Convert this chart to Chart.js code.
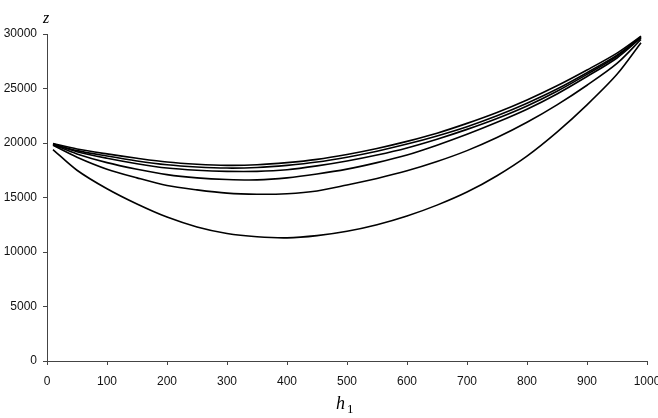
<!DOCTYPE html>
<html>
<head>
<meta charset="utf-8">
<script src="https://cdn.jsdelivr.net/npm/chart.js@4"></script>
<style>
  html, body { margin: 0; padding: 0; background: #fff; overflow: hidden; }
  #wrap { width: 658px; height: 418px; }
</style>
</head>
<body>
<div id="wrap"><canvas id="zChart" width="658" height="418"></canvas></div>
<script>

// ------------------------------
// Data
// ------------------------------

const h1Values = [10, 50, 100, 150, 200, 250, 300, 350, 400, 450, 500,
                  550, 600, 650, 700, 750, 800, 850, 900, 950, 990];

const curve1 = [19950, 19450, 19000, 18600, 18250, 18050, 17950, 18000, 18200, 18500, 18950,
                19500, 20150, 20900, 21800, 22800, 23950, 25250, 26700, 28250, 29800];
const curve2 = [19900, 19300, 18800, 18350, 18000, 17800, 17700, 17750, 17950, 18250, 18700,
                19250, 19900, 20650, 21500, 22500, 23650, 24950, 26450, 28050, 29750];
const curve3 = [19900, 19200, 18600, 18100, 17700, 17500, 17400, 17400, 17550, 17900, 18350,
                18900, 19550, 20350, 21250, 22250, 23400, 24750, 26300, 27950, 29700];
const curve4 = [19850, 19000, 18200, 17600, 17100, 16800, 16650, 16620, 16800, 17150, 17600,
                18200, 18900, 19800, 20800, 21900, 23100, 24500, 26100, 27800, 29650];
const curve5 = [19800, 18700, 17600, 16800, 16100, 15700, 15400, 15300, 15350, 15600, 16150,
                16750, 17450, 18300, 19300, 20500, 21900, 23500, 25300, 27300, 29500];
const curve6 = [19400, 17500, 15800, 14400, 13200, 12300, 11700, 11400, 11300, 11500, 11900,
                12500, 13300, 14300, 15500, 17000, 18800, 21000, 23500, 26300, 29200];

const curves = [curve1, curve2, curve3, curve4, curve5, curve6];

const xTicks = [0, 100, 200, 300, 400, 500, 600, 700, 800, 900, 1000];
const yTicks = [0, 5000, 10000, 15000, 20000, 25000, 30000];

// ------------------------------
// Axis titles (z and h1)
// ------------------------------

const axisTitles = {
    id: "axisTitles",
    afterDraw: function(chart){
        const ctx = chart.ctx;
        ctx.save();
        ctx.fillStyle = "#000";
        ctx.textBaseline = "alphabetic";
        ctx.textAlign = "left";

        ctx.font = "italic 16px 'Liberation Serif', 'Times New Roman', serif";
        ctx.fillText("z", 43, 23);

        ctx.font = "italic 18px 'Liberation Serif', 'Times New Roman', serif";
        ctx.fillText("h", 336, 409);
        ctx.font = "13px 'Liberation Serif', 'Times New Roman', serif";
        ctx.fillText("1", 347, 413);

        ctx.restore();
    }
};

// ------------------------------
// Chart
// ------------------------------

const tickFont = { family: "'Liberation Sans', Arial, sans-serif", size: 12 };

new Chart(document.getElementById("zChart"), {

    type: "line",

    data: {
        datasets: curves.map(function(c){
            return {
                data: h1Values.map(function(h, i){ return { x: h, y: c[i] }; }),
                borderColor: "#000",
                borderWidth: 1.6,
                pointRadius: 0,
                fill: false,
                tension: 0.3
            };
        })
    },

    options: {
        responsive: false,
        animation: false,
        layout: { padding: { top: 34, left: 0, right: 11, bottom: 0 } },
        plugins: {
            legend: { display: false },
            tooltip: { enabled: false }
        },
        scales: {
            x: {
                type: "linear",
                min: 0,
                max: 1000,
                afterBuildTicks: function(scale){
                    scale.ticks = xTicks.map(function(v){ return { value: v }; });
                },
                afterFit: function(scale){
                    scale.height = 57;
                    scale.paddingLeft = 0;
                    scale.paddingRight = 0;
                },
                border: { display: true, color: "#444", width: 1 },
                grid: { display: true, drawOnChartArea: false, drawTicks: true, tickLength: 4, color: "#444" },
                ticks: {
                    color: "#111",
                    font: tickFont,
                    padding: 9,
                    maxRotation: 0,
                    autoSkip: false,
                    callback: function(v){ return String(v); }
                }
            },
            y: {
                type: "linear",
                min: 0,
                max: 30000,
                afterBuildTicks: function(scale){
                    scale.ticks = yTicks.map(function(v){ return { value: v }; });
                },
                afterFit: function(scale){
                    scale.width = 47;
                    scale.paddingTop = 0;
                    scale.paddingBottom = 0;
                },
                border: { display: true, color: "#444", width: 1 },
                grid: { display: true, drawOnChartArea: false, drawTicks: true, tickLength: 4, color: "#444" },
                ticks: {
                    color: "#111",
                    font: tickFont,
                    padding: 6,
                    autoSkip: false,
                    callback: function(v){ return String(v); }
                }
            }
        }
    },

    plugins: [axisTitles]

});

</script>
</body>
</html>
